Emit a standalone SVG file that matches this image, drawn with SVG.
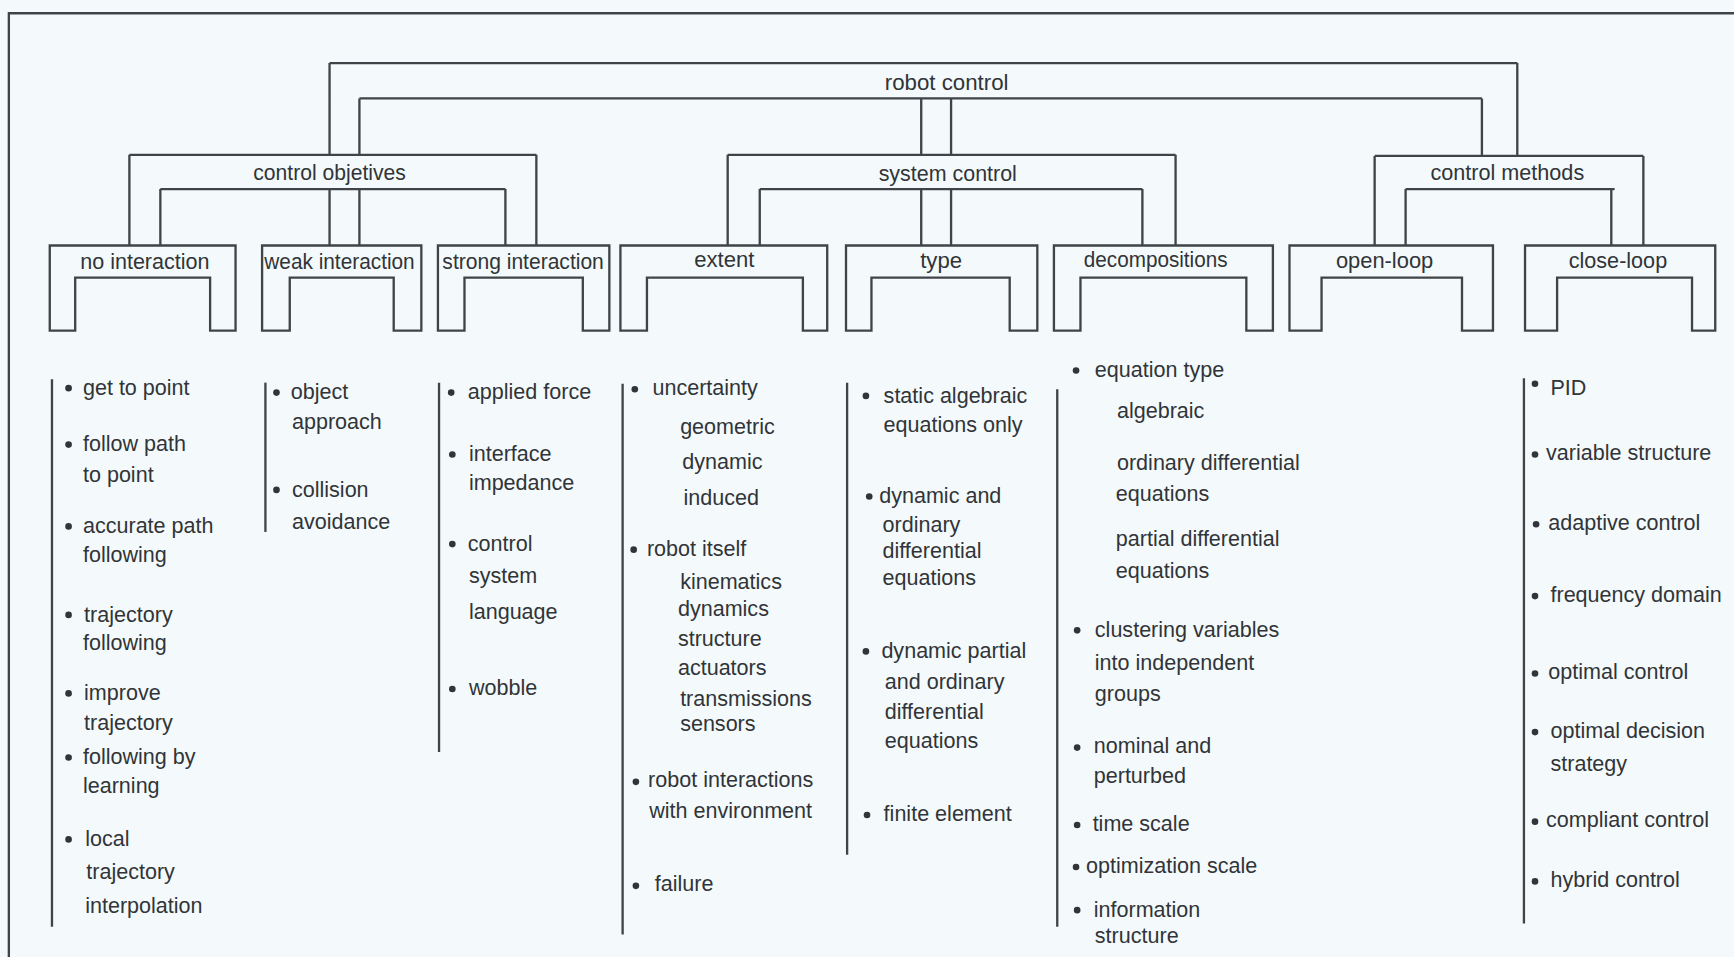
<svg xmlns="http://www.w3.org/2000/svg" width="1734" height="957" viewBox="0 0 1734 957">
<style>
.ln{stroke:#404448;stroke-width:2.1;fill:none;stroke-linejoin:miter}
.t{font-family:"Liberation Sans",Arial,sans-serif;font-size:19.5px;fill:#313438}
.h{font-family:"Liberation Sans",Arial,sans-serif;font-size:20px;fill:#313438;text-anchor:middle}
.b{fill:#313438}
</style>
<rect x="0" y="0" width="1734" height="957" fill="#f4fafb"/>
<g transform="scale(1.1059)">
<g id="frame">
<path class="ln" d="M7,12 H1568 M8,12 V866"/>
</g>
<g id="connectors">
<path class="ln" d="M298,57 V140 M325,89 V140 M1372,57 V141 M1340,89 V141 M833,89 V140 M860,89 V140"/>
<path class="ln" d="M117,140 V222 M145,171 V222 M485,140 V222 M457,171 V222 M298,171 V222 M325,171 V222"/>
<path class="ln" d="M658,140 V222 M687,171 V222 M1063,140 V222 M1033,171 V222 M833,171 V222 M860,171 V222"/>
<path class="ln" d="M1243,141 V222 M1271,171 V222 M1486,141 V222 M1457,171 V222"/>
</g>
<g id="node-robot-control">
<path class="ln" d="M298,57 H1372 M325,89 H1340"/>
<text class="h" x="856" y="81" textLength="112" lengthAdjust="spacingAndGlyphs">robot control</text>
</g>
<g id="node-control-objetives">
<path class="ln" d="M117,140 H485 M145,171 H457"/>
<text class="h" x="298" y="163" textLength="138" lengthAdjust="spacingAndGlyphs">control objetives</text>
</g>
<g id="node-system-control">
<path class="ln" d="M658,140 H1063 M687,171 H1033"/>
<text class="h" x="857" y="164" textLength="125" lengthAdjust="spacingAndGlyphs">system control</text>
</g>
<g id="node-control-methods">
<path class="ln" d="M1243,141 H1486 M1271,171 H1460"/>
<text class="h" x="1363" y="163" textLength="139" lengthAdjust="spacingAndGlyphs">control methods</text>
</g>
<g id="node-no-interaction">
<path class="ln" d="M45,299 V222 H213 V299 H190 V251 H68 V299 Z"/>
<text class="h" x="131" y="243" textLength="117" lengthAdjust="spacingAndGlyphs">no interaction</text>
</g>
<g id="node-weak-interaction">
<path class="ln" d="M237,299 V222 H381 V299 H356 V251 H262 V299 Z"/>
<text class="h" x="307" y="243" textLength="136" lengthAdjust="spacingAndGlyphs">weak interaction</text>
</g>
<g id="node-strong-interaction">
<path class="ln" d="M396,299 V222 H551 V299 H527 V251 H420 V299 Z"/>
<text class="h" x="473" y="243" textLength="146" lengthAdjust="spacingAndGlyphs">strong interaction</text>
</g>
<g id="node-extent">
<path class="ln" d="M561,299 V222 H748 V299 H726 V251 H585 V299 Z"/>
<text class="h" x="655" y="241">extent</text>
</g>
<g id="node-type">
<path class="ln" d="M765,299 V222 H938 V299 H913 V251 H788 V299 Z"/>
<text class="h" x="851" y="242">type</text>
</g>
<g id="node-decompositions">
<path class="ln" d="M953,299 V222 H1151 V299 H1127 V251 H977 V299 Z"/>
<text class="h" x="1045" y="241" textLength="130" lengthAdjust="spacingAndGlyphs">decompositions</text>
</g>
<g id="node-open-loop">
<path class="ln" d="M1166,299 V222 H1350 V299 H1322 V251 H1195 V299 Z"/>
<text class="h" x="1252" y="242" textLength="88" lengthAdjust="spacingAndGlyphs">open-loop</text>
</g>
<g id="node-close-loop">
<path class="ln" d="M1379,299 V222 H1551 V299 H1530 V251 H1408 V299 Z"/>
<text class="h" x="1463" y="242" textLength="89" lengthAdjust="spacingAndGlyphs">close-loop</text>
</g>
<g id="list-no-interaction">
<path class="ln" d="M47,343 V838"/>
<circle class="b" cx="62" cy="351" r="3"/><text class="t" x="75" y="357">get to point</text>
<circle class="b" cx="62" cy="402" r="3"/><text class="t" x="75" y="408">follow path</text><text class="t" x="75" y="436">to point</text>
<circle class="b" cx="62" cy="476" r="3"/><text class="t" x="75" y="482">accurate path</text><text class="t" x="75" y="508">following</text>
<circle class="b" cx="62" cy="556" r="3"/><text class="t" x="76" y="562">trajectory</text><text class="t" x="75" y="588">following</text>
<circle class="b" cx="62" cy="627" r="3"/><text class="t" x="76" y="633">improve</text><text class="t" x="76" y="660">trajectory</text>
<circle class="b" cx="62" cy="685" r="3"/><text class="t" x="75" y="691">following by</text><text class="t" x="75" y="717">learning</text>
<circle class="b" cx="62" cy="759" r="3"/><text class="t" x="77" y="765">local</text><text class="t" x="78" y="795">trajectory</text><text class="t" x="77" y="826">interpolation</text>
</g>
<g id="list-weak-interaction">
<path class="ln" d="M240,346 V481"/>
<circle class="b" cx="250" cy="355" r="3"/><text class="t" x="263" y="361">object</text><text class="t" x="264" y="388">approach</text>
<circle class="b" cx="250" cy="443" r="3"/><text class="t" x="264" y="449">collision</text><text class="t" x="264" y="478">avoidance</text>
</g>
<g id="list-strong-interaction">
<path class="ln" d="M397,346 V680"/>
<circle class="b" cx="408" cy="355" r="3"/><text class="t" x="423" y="361">applied force</text>
<circle class="b" cx="409" cy="411" r="3"/><text class="t" x="424" y="417">interface</text><text class="t" x="424" y="443">impedance</text>
<circle class="b" cx="409" cy="492" r="3"/><text class="t" x="423" y="498">control</text><text class="t" x="424" y="527">system</text><text class="t" x="424" y="560">language</text>
<circle class="b" cx="409" cy="623" r="3"/><text class="t" x="424" y="628">wobble</text>
</g>
<g id="list-extent">
<path class="ln" d="M563,347 V845"/>
<circle class="b" cx="574" cy="352" r="3"/><text class="t" x="590" y="357">uncertainty</text>
<text class="t" x="615" y="392">geometric</text><text class="t" x="617" y="424">dynamic</text><text class="t" x="618" y="457">induced</text>
<circle class="b" cx="573" cy="497" r="3"/><text class="t" x="585" y="503">robot itself</text>
<text class="t" x="615" y="533">kinematics</text><text class="t" x="613" y="557">dynamics</text><text class="t" x="613" y="584">structure</text><text class="t" x="613" y="610">actuators</text><text class="t" x="615" y="638">transmissions</text><text class="t" x="615" y="661">sensors</text>
<circle class="b" cx="575" cy="707" r="3"/><text class="t" x="586" y="712">robot interactions</text><text class="t" x="587" y="740">with environment</text>
<circle class="b" cx="575" cy="801" r="3"/><text class="t" x="592" y="806">failure</text>
</g>
<g id="list-type">
<path class="ln" d="M766,346 V773"/>
<circle class="b" cx="783" cy="358" r="3"/><text class="t" x="799" y="364">static algebraic</text><text class="t" x="799" y="391">equations only</text>
<circle class="b" cx="786" cy="449" r="3"/><text class="t" x="795" y="455">dynamic and</text><text class="t" x="798" y="481">ordinary</text><text class="t" x="798" y="505">differential</text><text class="t" x="798" y="529">equations</text>
<circle class="b" cx="783" cy="589" r="3"/><text class="t" x="797" y="595">dynamic partial</text><text class="t" x="800" y="623">and ordinary</text><text class="t" x="800" y="650">differential</text><text class="t" x="800" y="676">equations</text>
<circle class="b" cx="784" cy="737" r="3"/><text class="t" x="799" y="742">finite element</text>
</g>
<g id="list-decompositions">
<path class="ln" d="M956,352 V838"/>
<circle class="b" cx="973" cy="335" r="3"/><text class="t" x="990" y="341">equation type</text><text class="t" x="1010" y="378">algebraic</text>
<text class="t" x="1010" y="425">ordinary differential</text><text class="t" x="1009" y="453">equations</text>
<text class="t" x="1009" y="494">partial differential</text><text class="t" x="1009" y="523">equations</text>
<circle class="b" cx="974" cy="570" r="3"/><text class="t" x="990" y="576">clustering variables</text><text class="t" x="990" y="606">into independent</text><text class="t" x="990" y="634">groups</text>
<circle class="b" cx="974" cy="676" r="3"/><text class="t" x="989" y="681">nominal and</text><text class="t" x="989" y="708">perturbed</text>
<circle class="b" cx="974" cy="746" r="3"/><text class="t" x="988" y="751">time scale</text>
<circle class="b" cx="973" cy="784" r="3"/><text class="t" x="982" y="789">optimization scale</text>
<circle class="b" cx="974" cy="823" r="3"/><text class="t" x="989" y="829">information</text><text class="t" x="990" y="853">structure</text>
</g>
<g id="list-close-loop">
<path class="ln" d="M1378,342 V835"/>
<circle class="b" cx="1388" cy="347" r="3"/><text class="t" x="1402" y="357">PID</text>
<circle class="b" cx="1388" cy="411" r="3"/><text class="t" x="1398" y="416">variable structure</text>
<circle class="b" cx="1389" cy="474" r="3"/><text class="t" x="1400" y="479">adaptive control</text>
<circle class="b" cx="1388" cy="539" r="3"/><text class="t" x="1402" y="544">frequency domain</text>
<circle class="b" cx="1388" cy="609" r="3"/><text class="t" x="1400" y="614">optimal control</text>
<circle class="b" cx="1388" cy="662" r="3"/><text class="t" x="1402" y="667">optimal decision</text><text class="t" x="1402" y="697">strategy</text>
<circle class="b" cx="1388" cy="743" r="3"/><text class="t" x="1398" y="748">compliant control</text>
<circle class="b" cx="1388" cy="797" r="3"/><text class="t" x="1402" y="802">hybrid control</text>
</g>
</g>
</svg>
